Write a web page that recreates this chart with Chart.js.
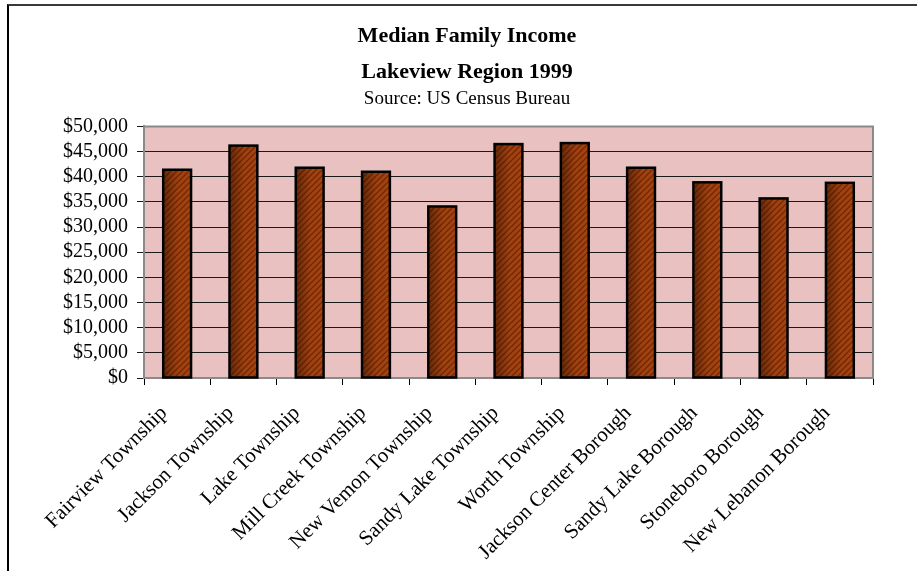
<!DOCTYPE html>
<html>
<head>
<meta charset="utf-8">
<script src="https://cdn.jsdelivr.net/npm/chart.js@4/dist/chart.umd.min.js"></script>
<style>
  html, body { margin: 0; padding: 0; background: #fff; }
  #wrap { position: relative; width: 917px; height: 571px; }
  #frame { position: absolute; left: 7px; top: 4px; right: 0; bottom: -5px; border-top: 2px solid #3a3a3a; border-left: 2px solid #000; pointer-events: none; }
  canvas { position: absolute; left: 0; top: 0; }
</style>
</head>
<body>
<div id="wrap">
  <canvas id="c" width="917" height="571"></canvas>
  <div id="frame"></div>
</div>
<script>
const titleLines = ['Median Family Income', 'Lakeview Region 1999'];
const subtitleText = 'Source: US Census Bureau';
const categories = ['Fairview Township', 'Jackson Township', 'Lake Township', 'Mill Creek Township', 'New Vemon Township', 'Sandy Lake Township', 'Worth Township', 'Jackson Center Borough', 'Sandy Lake Borough', 'Stoneboro Borough', 'New Lebanon Borough'];
const incomeValues = [41400, 46200, 41800, 41000, 34100, 46500, 46700, 41800, 38900, 35700, 38800];
const yTickValues = [0, 5000, 10000, 15000, 20000, 25000, 30000, 35000, 40000, 45000, 50000];

const SERIF = '"Liberation Serif", "Times New Roman", serif';

function makeBarPattern() {
  const p = document.createElement('canvas');
  p.width = 6; p.height = 6;
  const g = p.getContext('2d');
  g.fillStyle = '#a3420f';
  g.fillRect(0, 0, 6, 6);
  g.strokeStyle = '#6e2808';
  g.lineWidth = 1.3;
  g.beginPath();
  g.moveTo(-1, 7); g.lineTo(7, -1);
  g.moveTo(-4, 4); g.lineTo(4, -4);
  g.moveTo(2, 10); g.lineTo(10, 2);
  g.stroke();
  return document.getElementById('c').getContext('2d').createPattern(p, 'repeat');
}

const plotBg = {
  id: 'plotBg',
  beforeDraw(chart) {
    const {ctx, chartArea: a} = chart;
    ctx.save();
    ctx.fillStyle = '#e9c1c1';
    ctx.fillRect(a.left, a.top, a.right - a.left, a.bottom - a.top);
    ctx.restore();
  },
  afterDatasetsDraw(chart) {
    const {ctx} = chart;
    const meta = chart.getDatasetMeta(0);
    ctx.save();
    meta.data.forEach(b => {
      const w = b.width, x0 = b.x - w / 2;
      const gr = ctx.createLinearGradient(x0, 0, x0 + w, 0);
      gr.addColorStop(0, 'rgba(30,10,0,0.45)');
      gr.addColorStop(0.55, 'rgba(30,10,0,0.0)');
      gr.addColorStop(1, 'rgba(255,120,40,0.08)');
      ctx.fillStyle = gr;
      ctx.fillRect(x0 + 1, b.y + 1, w - 2, b.base - b.y - 1);
      ctx.strokeStyle = '#000';
      ctx.lineWidth = 2.5;
      ctx.strokeRect(x0, b.y, w, b.base - b.y);
    });
    ctx.restore();
  },
  afterDraw(chart) {
    const {ctx, chartArea: a} = chart;
    ctx.save();
    ctx.strokeStyle = '#8a8a8a';
    ctx.lineWidth = 2;
    ctx.beginPath();
    ctx.moveTo(a.left, a.top); ctx.lineTo(a.right, a.top); ctx.lineTo(a.right, a.bottom);
    ctx.stroke();
    ctx.restore();
  }
};

const money = v => '$' + v.toLocaleString('en-US');

new Chart(document.getElementById('c'), {
  type: 'bar',
  data: {
    labels: categories,
    datasets: [{
      data: incomeValues,
      backgroundColor: makeBarPattern(),
      borderColor: '#000',
      borderWidth: 0,
      barPercentage: 0.42,
      categoryPercentage: 1.0
    }]
  },
  options: {
    responsive: false,
    animation: false,
    layout: { padding: { left: 61, right: 44, top: 0, bottom: 0 } },
    plugins: {
      legend: { display: false },
      tooltip: { enabled: false },
      title: {
        display: true,
        text: titleLines,
        color: '#000',
        font: { family: SERIF, size: 22, weight: 'bold', lineHeight: 1.636 },
        padding: { top: 18, bottom: 0 }
      },
      subtitle: {
        display: true,
        text: subtitleText,
        color: '#000',
        font: { family: SERIF, size: 19, lineHeight: 1.0 },
        padding: { top: 0, bottom: 17.5 }
      }
    },
    scales: {
      x: {
        grid: { display: true, drawOnChartArea: false, drawTicks: true, tickLength: 7, color: '#000', offset: true },
        border: { display: true, color: '#8a8a8a', width: 2 },
        ticks: {
          color: '#000',
          font: { family: SERIF, size: 21 },
          minRotation: 45, maxRotation: 45, autoSkip: false, padding: 16,
          labelOffset: -13
        },
        afterFit(s) { s.height = 193; }
      },
      y: {
        min: 0, max: 50000,
        afterBuildTicks(s) { s.ticks = yTickValues.map(v => ({ value: v })); },
        grid: { color: '#1a1a1a', lineWidth: 1, drawTicks: true, tickLength: 7 },
        border: { display: true, color: '#8a8a8a', width: 2 },
        ticks: {
          color: '#000',
          font: { family: SERIF, size: 20, lineHeight: 1.0 },
          padding: 9,
          autoSkip: false,
          callback: v => money(v)
        },
        afterFit(s) { s.width = 83; }
      }
    }
  },
  plugins: [plotBg]
});
</script>
</body>
</html>
